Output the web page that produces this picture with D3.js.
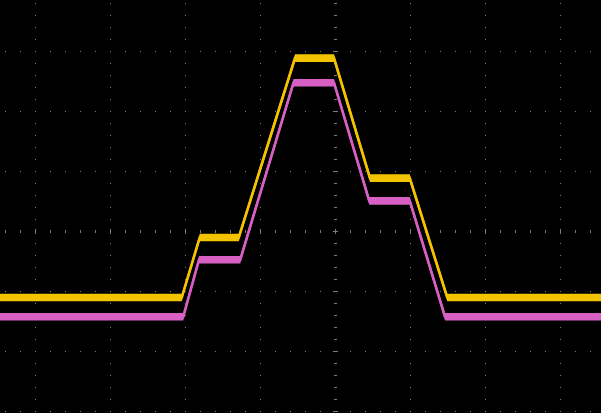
<!DOCTYPE html>
<html>
<head>
<meta charset="utf-8">
<script src="https://cdn.jsdelivr.net/npm/d3@7"></script>
<style>
  html, body { margin: 0; padding: 0; background: #000; overflow: hidden; }
  svg { display: block; }
</style>
</head>
<body>
<svg id="chart" width="601" height="413"></svg>
<script>
// Time in horizontal divisions (0 = screen centre), voltage in vertical divisions
const yellowT = [-4.6, -2.05, -1.81, -1.29, -0.54, -0.02, 0.46, 0.99, 1.49, 3.7];
const yellowV = [-1.10, -1.10, -0.10, -0.10, 2.89, 2.89, 0.89, 0.89, -1.10, -1.10];
const pinkT   = [-4.6, -2.03, -1.82, -1.27, -0.56, -0.02, 0.45, 0.99, 1.46, 3.7];
const pinkV   = [-1.42, -1.42, -0.47, -0.47, 2.48, 2.48, 0.51, 0.51, -1.42, -1.42];

const W = 601, H = 413;
const svg = d3.select("#chart");
svg.append("rect").attr("width", W).attr("height", H).attr("fill", "#000");

// 75 px per horizontal division, 60 px per vertical division; centre at (335.5, 231.5)
const x = d3.scaleLinear().domain([-5, 5]).range([335.5 - 375, 335.5 + 375]);
const y = d3.scaleLinear().domain([-4, 4]).range([231.5 + 240, 231.5 - 240]);

const gridColor = "#7c7c7c";
const g = svg.append("g");

const majorX = d3.range(-5, 6);
const majorY = d3.range(-4, 5);
const minorX = d3.range(-25, 26).map(d => d / 5);
const minorY = d3.range(-20, 21).map(d => d / 5);

const inX = px => px >= 0 && px < W;
const inY = py => py >= 0 && py < H;

// dots along vertical grid lines
majorX.forEach(mx => {
  const px = Math.floor(x(mx));
  if (!inX(px) || mx === 0) return;
  minorY.forEach(my => {
    const py = Math.floor(y(my));
    if (!inY(py)) return;
    g.append("rect").attr("x", px).attr("y", py).attr("width", 1).attr("height", 1).attr("fill", gridColor);
  });
});
// dots along horizontal grid lines
majorY.forEach(my => {
  const py = Math.floor(y(my));
  if (!inY(py) || my === 0) return;
  minorX.forEach(mx => {
    const px = Math.floor(x(mx));
    if (!inX(px)) return;
    g.append("rect").attr("x", px).attr("y", py).attr("width", 1).attr("height", 1).attr("fill", gridColor);
  });
});
// centre horizontal axis ticks
minorX.forEach(mx => {
  const px = Math.floor(x(mx));
  if (!inX(px)) return;
  const major = Math.abs(mx - Math.round(mx)) < 1e-6;
  const len = major ? 5 : 3;
  g.append("rect").attr("x", px).attr("y", Math.floor(y(0)) - (len - 1) / 2)
    .attr("width", 1).attr("height", len).attr("fill", gridColor);
});
// centre vertical axis ticks
minorY.forEach(my => {
  const py = Math.floor(y(my));
  if (!inY(py)) return;
  const major = Math.abs(my - Math.round(my)) < 1e-6;
  const len = major ? 5 : 3;
  g.append("rect").attr("x", Math.floor(x(0)) - (len - 1) / 2).attr("y", py)
    .attr("width", len).attr("height", 1).attr("fill", gridColor);
});

// traces
const band = 3.8 / 60; // noise envelope half-width (in divisions)
function drawTrace(T, V, color) {
  const pts = T.map((t, i) => ({ t, v: V[i] }));
  const area = d3.area().x(d => x(d.t)).y0(d => y(d.v - band)).y1(d => y(d.v + band));
  const line = d3.line().x(d => x(d.t)).y(d => y(d.v));
  svg.append("path").datum(pts).attr("d", area).attr("fill", color);
  svg.append("path").datum(pts).attr("d", line).attr("fill", "none")
    .attr("stroke", color).attr("stroke-width", 2.6);
}
drawTrace(pinkT, pinkV, "#d860c4");
drawTrace(yellowT, yellowV, "#f4c300");
</script>
</body>
</html>
